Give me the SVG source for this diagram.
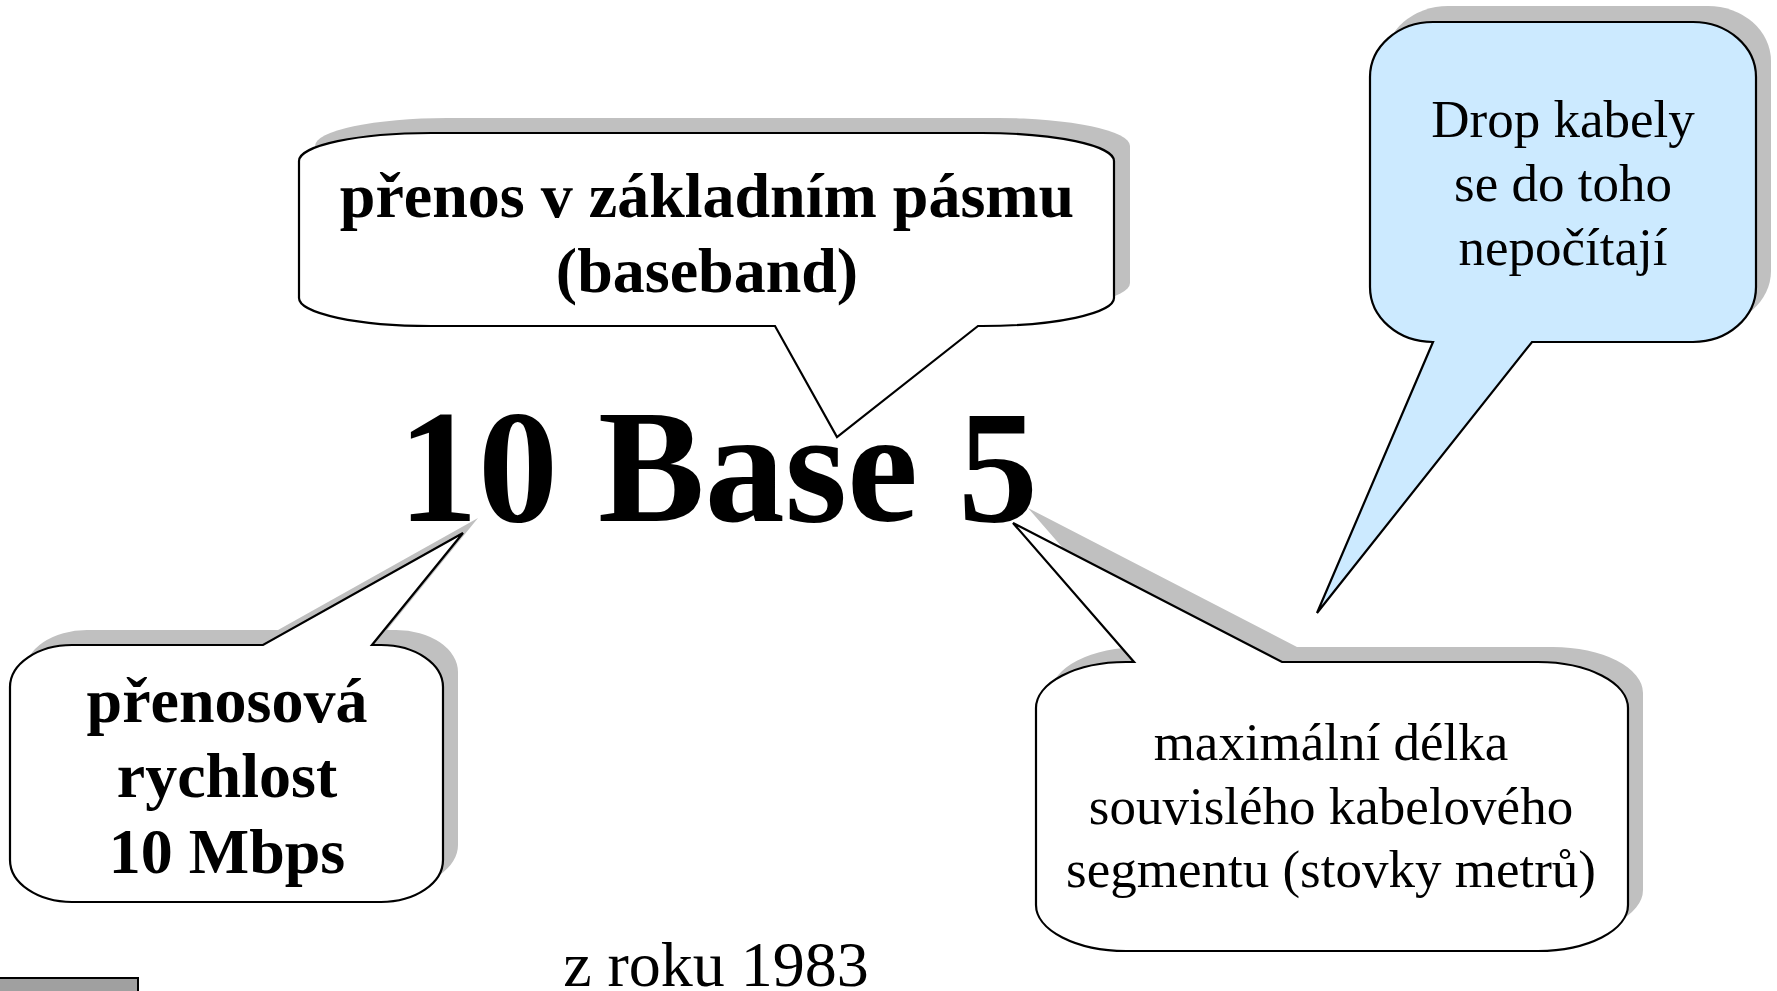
<svg xmlns="http://www.w3.org/2000/svg" width="1777" height="991" viewBox="0 0 1777 991">
<style>
.shadow{fill:#c0c0c0;stroke:none}
.bubble{fill:#ffffff;stroke:#000;stroke-width:2.2;stroke-linejoin:miter}
.blue{fill:#cceaff}
text{font-family:"Liberation Serif","Times New Roman",serif;fill:#000;text-anchor:middle}
.b{font-weight:bold}
.t64{font-size:64px}
.t53{font-size:53px}
</style>
<rect width="1777" height="991" fill="#fff"/>

<g id="bubble-baseband">
  <path class="shadow" transform="translate(16,-15)" d="M431,133 H982 A132 28 0 0 1 1114,161 V298 A132 28 0 0 1 982,326 H431 A132 28 0 0 1 299,298 V161 A132 28 0 0 1 431,133 Z"/>
  <path class="bubble" d="M431,133 H982 A132 28 0 0 1 1114,161 V298 A132 28 0 0 1 982,326 L978,326 L837,437 L775,326 H431 A132 28 0 0 1 299,298 V161 A132 28 0 0 1 431,133 Z"/>
  <text class="b t64" x="707" y="217">přenos v základním pásmu</text>
  <text class="b t64" x="707" y="292">(baseband)</text>
</g>

<g id="bubble-drop">
  <path class="shadow" transform="translate(15,-16)" d="M1433,22 H1693 A63 55 0 0 1 1756,77 V287 A63 55 0 0 1 1693,342 H1433 A63 55 0 0 1 1370,287 V77 A63 55 0 0 1 1433,22 Z"/>
  <path class="bubble blue" d="M1433,22 H1693 A63 55 0 0 1 1756,77 V287 A63 55 0 0 1 1693,342 H1532 L1317,613 L1433,342 A63 55 0 0 1 1370,287 V77 A63 55 0 0 1 1433,22 Z"/>
  <text class="t53" x="1563" y="137">Drop kabely</text>
  <text class="t53" x="1563" y="201">se do toho</text>
  <text class="t53" x="1563" y="265">nepočítají</text>
</g>

<g id="bubble-rychlost">
  <path class="shadow" transform="translate(15,-15)" d="M72,645 H263 L463,533 L372,645 H381 A62 42 0 0 1 443,687 V860 A62 42 0 0 1 381,902 H72 A62 42 0 0 1 10,860 V687 A62 42 0 0 1 72,645 Z"/>
  <path class="bubble" d="M72,645 H263 L463,533 L372,645 H381 A62 42 0 0 1 443,687 V860 A62 42 0 0 1 381,902 H72 A62 42 0 0 1 10,860 V687 A62 42 0 0 1 72,645 Z"/>
  <text class="b t64" x="227" y="722">přenosová</text>
  <text class="b t64" x="227" y="797">rychlost</text>
  <text class="b t64" x="227" y="873">10 Mbps</text>
</g>

<g id="bubble-delka">
  <path class="shadow" transform="translate(15,-15)" d="M1036,708 A90 46 0 0 1 1126,662 H1134 L1013,523 L1282,662 H1538 A90 46 0 0 1 1628,708 V905 A90 46 0 0 1 1538,951 H1126 A90 46 0 0 1 1036,905 Z"/>
  <path class="bubble" d="M1036,708 A90 46 0 0 1 1126,662 H1134 L1013,523 L1282,662 H1538 A90 46 0 0 1 1628,708 V905 A90 46 0 0 1 1538,951 H1126 A90 46 0 0 1 1036,905 Z"/>
  <text class="t53" x="1331" y="760">maximální délka</text>
  <text class="t53" x="1331" y="824">souvislého kabelového</text>
  <text class="t53" x="1331" y="887">segmentu (stovky metrů)</text>
</g>

<g id="title">
  <text class="b" x="718" y="521" font-size="160">10 Base 5</text>
</g>

<g id="year">
  <text class="t64" x="716" y="986">z roku 1983</text>
</g>

<g id="corner-box">
  <rect x="-2" y="978" width="140" height="16" fill="#a0a0a0" stroke="#000" stroke-width="2"/>
</g>

<g id="connectors"></g>
</svg>
